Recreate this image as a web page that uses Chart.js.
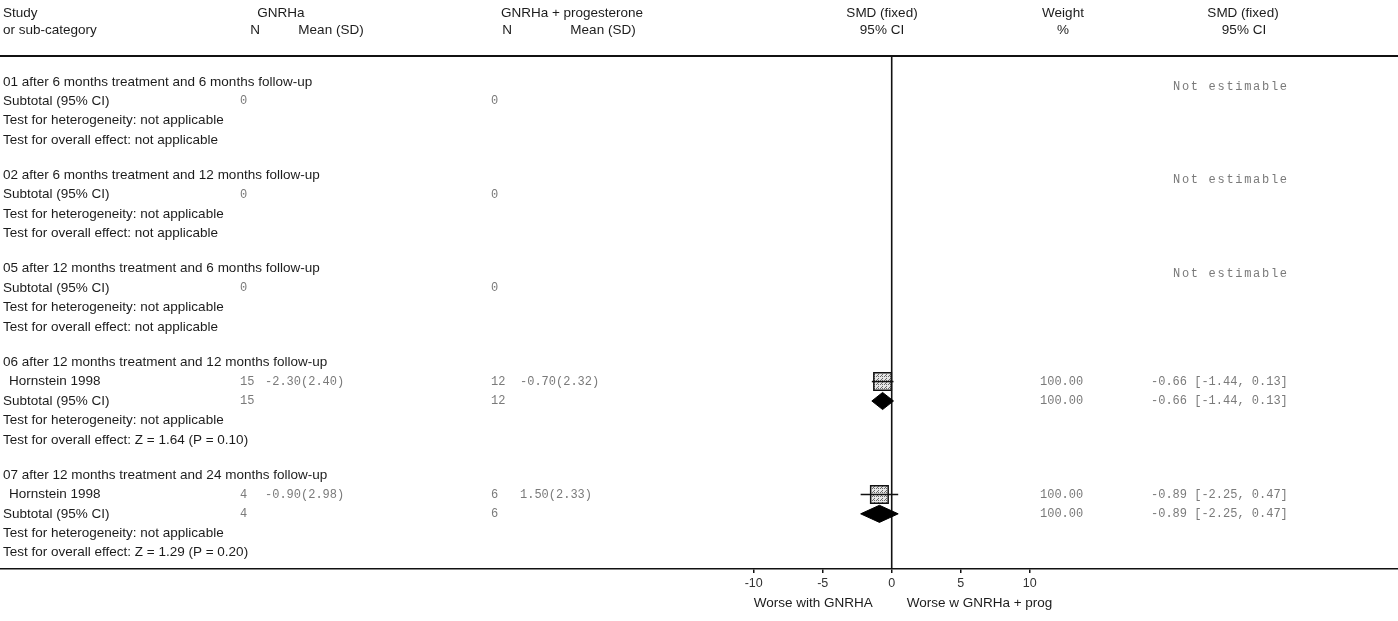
<!DOCTYPE html>
<html>
<head>
<meta charset="utf-8">
<script src="https://cdn.jsdelivr.net/npm/chart.js@4.4.0/dist/chart.umd.min.js"></script>
<style>
  html, body { margin: 0; padding: 0; background: #fff; }
  canvas { display: block; }
</style>
</head>
<body>
<canvas id="forest" width="1398" height="621"></canvas>
<script>
// ---- Data -------------------------------------------------------------
const groupTitles = [
  '01 after 6 months treatment and 6 months follow-up',
  '02 after 6 months treatment and 12 months follow-up',
  '05 after 12 months treatment and 6 months follow-up',
  '06 after 12 months treatment and 12 months follow-up',
  '07 after 12 months treatment and 24 months follow-up'
];
const studyNames   = ['', '', '', 'Hornstein 1998', 'Hornstein 1998'];
const nGnrha       = [0, 0, 0, 15, 4];
const meanGnrha    = [null, null, null, -2.30, -0.90];
const sdGnrha      = [null, null, null, 2.40, 2.98];
const nProg        = [0, 0, 0, 12, 6];
const meanProg     = [null, null, null, -0.70, 1.50];
const sdProg       = [null, null, null, 2.32, 2.33];
const smd          = [null, null, null, -0.66, -0.89];
const ciLow        = [null, null, null, -1.44, -2.25];
const ciHigh       = [null, null, null, 0.13, 0.47];
const weightPct    = [null, null, null, 100, 100];
const heterogeneity = ['not applicable', 'not applicable', 'not applicable', 'not applicable', 'not applicable'];
const overallEffect = ['not applicable', 'not applicable', 'not applicable', 'Z = 1.64 (P = 0.10)', 'Z = 1.29 (P = 0.20)'];
const xTicks = [-10, -5, 0, 5, 10];

// ---- Row layout (in text-line units) ----------------------------------
const GROUP_GAP = 1.81;
const rows = [];
let cursor = 0;
groupTitles.forEach((t, i) => {
  const r = { head: cursor };
  cursor += 1;
  if (studyNames[i]) { r.study = cursor; cursor += 1; }
  r.sub = cursor; r.het = cursor + 1; r.overall = cursor + 2;
  cursor += 2 + GROUP_GAP;
  rows.push(r);
});

const SANS = '"Liberation Sans", Arial, sans-serif';
const MONO = '"Liberation Mono", "Courier New", monospace';

// hatched fill for the study squares
function hatch() {
  const c = document.createElement('canvas');
  c.width = 4; c.height = 4;
  const g = c.getContext('2d');
  g.fillStyle = '#e6e6e6'; g.fillRect(0, 0, 4, 4);
  g.fillStyle = '#6a6a6a';
  g.fillRect(0, 0, 1, 1); g.fillRect(2, 2, 1, 1); g.fillRect(2, 0, 1, 1); g.fillRect(1, 3, 1, 1);
  return g.createPattern(c, 'repeat');
}
const hatchFill = hatch();

// ---- Datasets ---------------------------------------------------------
const datasets = [];
const DIAMOND_HALF = 0.44;
groupTitles.forEach((t, i) => {
  if (smd[i] === null) return;
  const r = rows[i];
  datasets.push({
    label: 'ci' + i, order: 0, showLine: true, pointRadius: 0,
    borderColor: '#111', borderWidth: 1.5,
    data: [{ x: ciLow[i], y: r.study }, { x: ciHigh[i], y: r.study }]
  });
  datasets.push({
    label: 'study' + i, order: 1, pointStyle: 'rect', pointRadius: 12.4,
    backgroundColor: hatchFill, borderColor: '#111', borderWidth: 1.5,
    data: [{ x: smd[i], y: r.study }]
  });
  datasets.push({
    label: 'pooled' + i, order: 2, showLine: true, pointRadius: 0,
    borderColor: '#000', borderWidth: 1, backgroundColor: '#000', fill: 'shape',
    data: [
      { x: ciLow[i], y: r.sub },
      { x: smd[i], y: r.sub - DIAMOND_HALF },
      { x: ciHigh[i], y: r.sub },
      { x: smd[i], y: r.sub + DIAMOND_HALF },
      { x: ciLow[i], y: r.sub }
    ]
  });
});

// ---- Table text, rules and zero line ------------------------------------
const fmt = v => v.toFixed(2);
const tablePlugin = {
  id: 'table',
  beforeDatasetsDraw(chart) {
    const { ctx, chartArea, scales } = chart;
    const x0 = scales.x.getPixelForValue(0);
    ctx.save();
    ctx.strokeStyle = '#111';
    ctx.lineWidth = 1.6;
    ctx.beginPath();
    ctx.moveTo(x0, chartArea.top);
    ctx.lineTo(x0, chartArea.bottom);
    ctx.stroke();
    ctx.restore();
  },
  afterDraw(chart) {
    const { ctx, chartArea, scales } = chart;
    const ys = v => scales.y.getPixelForValue(v);
    ctx.save();
    // header rule
    ctx.strokeStyle = '#111';
    ctx.lineWidth = 2;
    ctx.beginPath();
    ctx.moveTo(0, chartArea.top);
    ctx.lineTo(chart.width, chartArea.top);
    ctx.stroke();

    ctx.textBaseline = 'middle';
    const txt = (s, x, y, align, font, color, spacing) => {
      ctx.font = font; ctx.fillStyle = color; ctx.textAlign = align;
      ctx.letterSpacing = spacing || '0px';
      ctx.fillText(s, x, y);
    };
    const sans = '13.5px ' + SANS;
    const mono = '12px ' + MONO;
    const ink = '#1c1c1c';
    const grey = '#7a7a7a';

    // column headings
    const h1 = 13, h2 = 30;
    txt('Study', 3, h1, 'left', sans, ink);
    txt('or sub-category', 3, h2, 'left', sans, ink);
    txt('GNRHa', 281, h1, 'center', sans, ink);
    txt('N', 255, h2, 'center', sans, ink);
    txt('Mean (SD)', 331, h2, 'center', sans, ink);
    txt('GNRHa + progesterone', 572, h1, 'center', sans, ink);
    txt('N', 507, h2, 'center', sans, ink);
    txt('Mean (SD)', 603, h2, 'center', sans, ink);
    txt('SMD (fixed)', 882, h1, 'center', sans, ink);
    txt('95% CI', 882, h2, 'center', sans, ink);
    txt('Weight', 1063, h1, 'center', sans, ink);
    txt('%', 1063, h2, 'center', sans, ink);
    txt('SMD (fixed)', 1243, h1, 'center', sans, ink);
    txt('95% CI', 1244, h2, 'center', sans, ink);

    groupTitles.forEach((t, i) => {
      const r = rows[i];
      txt(t, 3, ys(r.head), 'left', sans, ink);
      if (studyNames[i]) {
        const y = ys(r.study);
        txt(studyNames[i], 9, y, 'left', sans, ink);
        txt(String(nGnrha[i]), 240, y, 'left', mono, grey);
        txt(fmt(meanGnrha[i]) + '(' + fmt(sdGnrha[i]) + ')', 265, y, 'left', mono, grey);
        txt(String(nProg[i]), 491, y, 'left', mono, grey);
        txt(fmt(meanProg[i]) + '(' + fmt(sdProg[i]) + ')', 520, y, 'left', mono, grey);
        txt(fmt(weightPct[i]), 1040, y, 'left', mono, grey);
        txt(fmt(smd[i]) + ' [' + fmt(ciLow[i]) + ', ' + fmt(ciHigh[i]) + ']', 1151, y, 'left', mono, grey);
      }
      const ySub = ys(r.sub);
      txt('Subtotal (95% CI)', 3, ySub, 'left', sans, ink);
      txt(String(nGnrha[i]), 240, ySub, 'left', mono, grey);
      txt(String(nProg[i]), 491, ySub, 'left', mono, grey);
      if (smd[i] === null) {
        txt('Not estimable', 1173, ys(r.head) + 5, 'left', mono, grey, '1.7px');
      } else {
        txt(fmt(weightPct[i]), 1040, ySub, 'left', mono, grey);
        txt(fmt(smd[i]) + ' [' + fmt(ciLow[i]) + ', ' + fmt(ciHigh[i]) + ']', 1151, ySub, 'left', mono, grey);
      }
      txt('Test for heterogeneity: ' + heterogeneity[i], 3, ys(r.het), 'left', sans, ink);
      txt('Test for overall effect: ' + overallEffect[i], 3, ys(r.overall), 'left', sans, ink);
    });

    // favours labels under the axis
    const x0 = scales.x.getPixelForValue(0);
    txt('Worse with GNRHA', x0 - 19, 603, 'right', sans, ink);
    txt('Worse w GNRHa + prog', x0 + 15, 603, 'left', sans, ink);
    ctx.restore();
  }
};

new Chart(document.getElementById('forest'), {
  type: 'scatter',
  data: { datasets },
  options: {
    responsive: false,
    animation: false,
    devicePixelRatio: 1,
    layout: { autoPadding: false, padding: { top: 56, bottom: 27, left: 0, right: 0 } },
    plugins: { legend: { display: false }, tooltip: { enabled: false } },
    scales: {
      x: {
        type: 'linear', min: -64.62, max: 36.69, position: 'bottom',
        afterBuildTicks: s => { s.ticks = xTicks.map(v => ({ value: v })); },
        afterFit: s => { s.paddingLeft = 0; s.paddingRight = 0; },
        grid: { drawOnChartArea: false, drawTicks: true, tickLength: 4, color: '#111', lineWidth: 1.5 },
        border: { display: true, color: '#111', width: 1.5 },
        ticks: { font: { family: SANS, size: 12.5 }, color: '#333', padding: 3, autoSkip: false, maxRotation: 0 }
      },
      y: { type: 'linear', display: false, reverse: true, min: -1.333, max: 25.08 }
    }
  },
  plugins: [tablePlugin]
});
</script>
</body>
</html>
